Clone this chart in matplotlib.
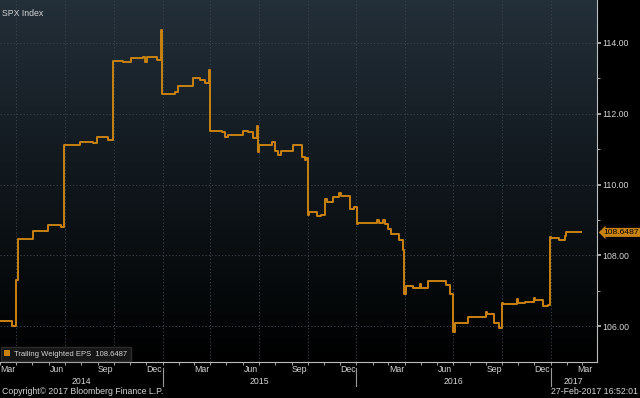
import pandas as pd
import numpy as np
import matplotlib
matplotlib.use('Agg')
import matplotlib.pyplot as plt
import matplotlib.dates as mdates
from matplotlib.colors import LinearSegmentedColormap
from matplotlib.transforms import blended_transform_factory
from matplotlib.patches import Rectangle

plt.rcParams['font.family'] = ['Liberation Sans', 'DejaVu Sans']

# Trailing weighted EPS, step changes
eps_dates = [
    '2014-02-25', '2014-03-23', '2014-03-31', '2014-04-04', '2014-05-02', '2014-05-31',
    '2014-06-24', '2014-06-30', '2014-07-30', '2014-08-23', '2014-08-31', '2014-09-21',
    '2014-09-30', '2014-10-18', '2014-11-02', '2014-11-25', '2014-11-29', '2014-12-02',
    '2014-12-21', '2014-12-29', '2014-12-31', '2015-01-24', '2015-01-30', '2015-02-27',
    '2015-03-12', '2015-03-22', '2015-03-29', '2015-03-31', '2015-04-23', '2015-04-29',
    '2015-05-04', '2015-06-01', '2015-06-11', '2015-06-20', '2015-06-28', '2015-06-30',
    '2015-07-01', '2015-07-26', '2015-08-01', '2015-08-07', '2015-08-12', '2015-09-03',
    '2015-09-21', '2015-09-26', '2015-09-28', '2015-10-01', '2015-10-04', '2015-10-19',
    '2015-10-26', '2015-11-03', '2015-11-06', '2015-11-18', '2015-11-30', '2015-12-03',
    '2015-12-20', '2015-12-28', '2016-01-02', '2016-01-04', '2016-02-09', '2016-02-12',
    '2016-02-20', '2016-02-24', '2016-03-01', '2016-03-06', '2016-03-21', '2016-03-29',
    '2016-03-31', '2016-04-03', '2016-04-17', '2016-04-29', '2016-05-01', '2016-05-15',
    '2016-06-18', '2016-06-25', '2016-06-30', '2016-07-04', '2016-07-30', '2016-09-01',
    '2016-09-03', '2016-09-17', '2016-09-26', '2016-10-02', '2016-10-03', '2016-10-29',
    '2016-10-31', '2016-11-13', '2016-11-30', '2016-12-02', '2016-12-18', '2016-12-27',
    '2016-12-31', '2017-01-01', '2017-01-16', '2017-01-28', '2017-01-30', '2017-02-27',
]
eps_values = [
    106.14, 106.00, 107.30, 108.45, 108.68, 108.85,
    108.80, 111.13, 111.19, 111.17, 111.35, 111.26,
    113.48, 113.45, 113.58, 113.61, 113.47, 113.60,
    113.51, 114.36, 112.57, 112.60, 112.77, 113.00,
    112.95, 112.86, 113.24, 111.52, 111.47, 111.35,
    111.40, 111.50, 111.47, 111.31, 111.65, 110.91,
    111.13, 111.19, 110.96, 110.82, 110.96, 111.12,
    110.79, 110.68, 110.75, 109.15, 109.22, 109.11,
    109.15, 109.60, 109.50, 109.66, 109.75, 109.69,
    109.31, 109.36, 108.89, 108.91, 108.99, 108.91,
    108.99, 108.90, 108.75, 108.61, 108.44, 108.14,
    106.90, 107.13, 107.08, 107.18, 107.08, 107.28,
    107.15, 106.92, 105.84, 106.10, 106.25, 106.40,
    106.34, 106.08, 105.96, 106.66, 106.62, 106.78,
    106.66, 106.68, 106.80, 106.73, 106.56, 106.59,
    108.52, 108.50, 108.44, 108.55, 108.6487, 108.6487,
]
last_value = 108.6487

month_labels = ['Mar', 'Jun', 'Sep', 'Dec'] * 3 + ['Mar']
month_starts = ['2014-03', '2014-06', '2014-09', '2014-12', '2015-03', '2015-06', '2015-09',
                '2015-12', '2016-03', '2016-06', '2016-09', '2016-12', '2017-03']
years = ['2014', '2015', '2016', '2017']
y_ticks = [106, 108, 110, 112, 114]

ORANGE = '#c8820f'
TXT = '#d4d4d4'
FS = 6.3

x_start = pd.Timestamp('2014-03-01')
x_end = pd.Timestamp('2017-03-29')

fig = plt.figure(figsize=(6.4, 3.98), dpi=100, facecolor='black')
ax = fig.add_axes([0, 36 / 398, 597 / 640, 362 / 398])
ax.set_facecolor('black')

# background gradient, black at the bottom to slate at the top
cmap = LinearSegmentedColormap.from_list('bg', ['#000000', '#10171c', '#232f39'])
grad = np.linspace(0, 1, 256).reshape(-1, 1)
ax.imshow(grad, extent=[0, 1, 0, 1], transform=ax.transAxes, cmap=cmap,
          aspect='auto', origin='lower', zorder=0)

dates = pd.to_datetime(eps_dates)
ax.plot(dates, eps_values, drawstyle='steps-post', color=ORANGE, linewidth=1.4, zorder=3)

ax.set_xlim(x_start, x_end)
ax.set_ylim(104.99, 115.21)

# axes styling
for s in ['top', 'left']:
    ax.spines[s].set_visible(False)
for s in ['bottom', 'right']:
    ax.spines[s].set_color('#bdbdbd')
    ax.spines[s].set_linewidth(0.8)

ax.yaxis.tick_right()
ax.set_yticks(y_ticks)
ax.set_yticklabels([f'{v:.2f}' for v in y_ticks])
ax.set_yticks([107, 109, 111, 113], minor=True)
ax.tick_params(axis='y', which='major', colors='#bdbdbd', labelcolor=TXT,
               labelsize=FS, length=3, width=1.2, pad=1)
ax.tick_params(axis='y', which='minor', colors='#bdbdbd', length=2, width=0.6)

ax.xaxis.set_major_locator(mdates.MonthLocator(bymonth=[1, 4, 7, 10]))
ax.xaxis.set_minor_locator(mdates.MonthLocator())
ax.xaxis.set_major_formatter(matplotlib.ticker.NullFormatter())
ax.tick_params(axis='x', which='both', colors='#bdbdbd', length=2, width=0.6)

ax.grid(True, which='major', color='#3a434c', linestyle=(0, (1.2, 2.2)), linewidth=0.7)
ax.set_axisbelow(True)

# month labels centred in their month
bt = blended_transform_factory(ax.transData, fig.transFigure)
for lab, m in zip(month_labels, month_starts):
    m0 = pd.Timestamp(m + '-01')
    mid = m0 + (m0 + pd.offsets.MonthBegin(1) - m0) / 2
    if mid + pd.Timedelta(days=14) > x_end:
        mid = x_end - pd.Timedelta(days=22)
    ax.text(mdates.date2num(mid), 28 / 398, lab, transform=bt, ha='center', va='center',
            color=TXT, fontsize=FS, clip_on=False)

# year labels and separators
for i, yr in enumerate(years):
    y0 = max(pd.Timestamp(yr + '-01-01'), x_start)
    y1 = min(pd.Timestamp(str(int(yr) + 1) + '-01-01'), x_end)
    ax.text(mdates.date2num(y0 + (y1 - y0) / 2), 17 / 398, yr, transform=bt,
            ha='center', va='center', color=TXT, fontsize=FS, clip_on=False)
    if i > 0:
        xs = mdates.date2num(pd.Timestamp(yr + '-01-01'))
        ax.plot([xs, xs], [30 / 398, 12 / 398], transform=bt, color='#9a9a9a',
                linewidth=0.8, clip_on=False)

# legend box
leg_handle = Rectangle((0, 0), 1, 1, facecolor=ORANGE, edgecolor='none')
leg = ax.legend([leg_handle], [f'Trailing Weighted EPS  {last_value}'], loc='lower left',
                bbox_to_anchor=(0, 0), borderaxespad=0.1, fontsize=5.5, frameon=True,
                fancybox=False, handlelength=0.7, handleheight=0.7, handletextpad=0.6,
                borderpad=0.45, labelcolor=TXT)
leg.get_frame().set_facecolor('#161616')
leg.get_frame().set_edgecolor('#2c2c2c')
leg.get_frame().set_alpha(1)
leg.set_zorder(5)

# last value tag on the right axis
ax.text(1.011, last_value, f'{last_value}', transform=blended_transform_factory(ax.transAxes, ax.transData),
        ha='left', va='center', fontsize=6.1, color='black', clip_on=False, zorder=6,
        bbox=dict(boxstyle='larrow,pad=0.12', facecolor=ORANGE, edgecolor='none'))

fig.text(2 / 640, 385 / 398, 'SPX Index', color=TXT, fontsize=FS, ha='left', va='center')
fig.text(2 / 640, 6 / 398, 'Copyright\u00a9 2017 Bloomberg Finance L.P.', color=TXT,
         fontsize=FS, ha='left', va='center')
fig.text(638 / 640, 6 / 398, '27-Feb-2017 16:52:01', color=TXT, fontsize=FS,
         ha='right', va='center')

fig.savefig('out.png', dpi=100, facecolor='black')
